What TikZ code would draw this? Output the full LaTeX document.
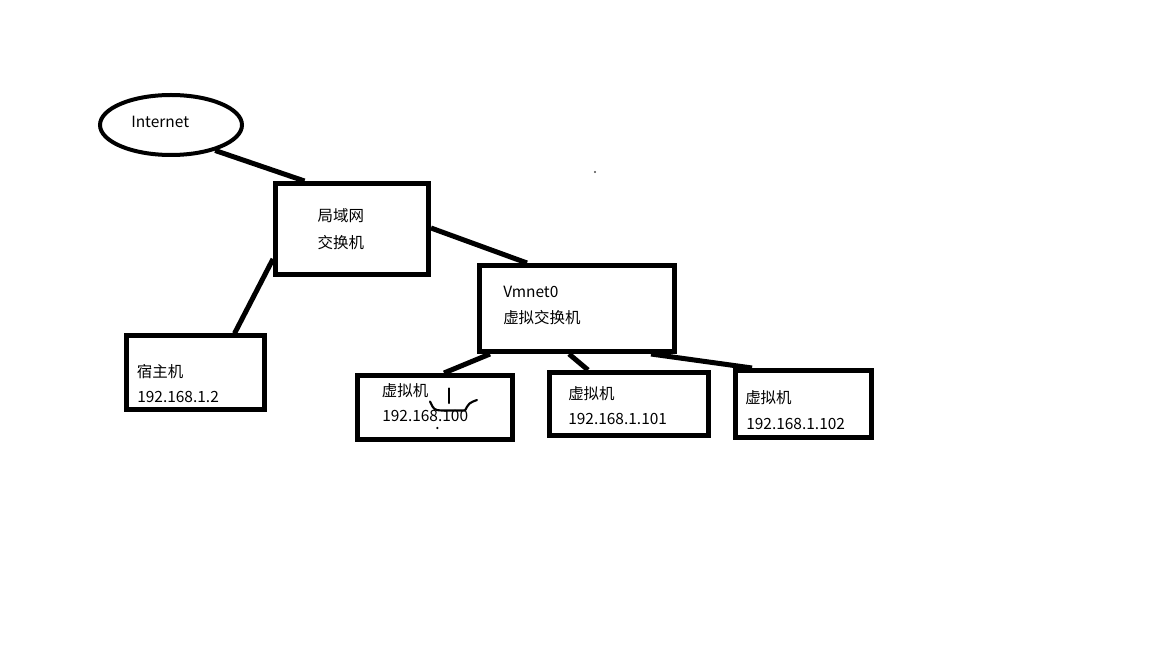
\documentclass[tikz,border=0pt]{standalone}
\usepackage{fontspec}
\setmainfont{Noto Sans CJK SC}
\usetikzlibrary{calc,shapes.geometric}
\tikzset{
  box/.style={draw=black, line width=3.75pt, rectangle, inner sep=0pt},
  cloud/.style={draw=black, line width=3pt, ellipse, inner sep=0pt},
  conn/.style={draw=black, line width=3.75pt},
  lbl/.style={anchor=west, inner sep=0pt, font=\fontsize{11.6pt}{13pt}\selectfont, text height=0.75em, text depth=0pt},
  scribble/.style={draw=black, line width=1.6pt, line cap=round, line join=round}
}
\begin{document}
\begin{tikzpicture}[x=0.75pt, y=-0.75pt]
\useasboundingbox[fill=white] (0,0) rectangle (1152,648);

% shapes
\node[cloud, minimum width=106.5pt, minimum height=45pt] (inet) at (171,125) {};
\node[box, minimum width=114.75pt, minimum height=68.25pt] (lan) at (352,229) {};
\node[box, minimum width=146.25pt, minimum height=64.5pt] (vm0) at (577,308.5) {};
\node[box, minimum width=103.5pt, minimum height=54.75pt] (host) at (195,372.5) {};
\node[box, minimum width=116.25pt, minimum height=48pt] (vma) at (435,407.5) {};
\node[box, minimum width=119.25pt, minimum height=47.25pt] (vmb) at (629,404) {};
\node[box, minimum width=102pt, minimum height=50.25pt] (vmc) at (803.5,404) {};

% labels
\node[lbl] (tinet) at (131,122.5) {Internet};
\node[lbl] (tlan1) at (317.3,216.5) {局域网};
\node[lbl] (tlan2) at (317.3,243.5) {交换机};
\node[lbl] (tvm01) at (503,292.5) {Vmnet0};
\node[lbl] (tvm02) at (503,318.5) {虚拟交换机};
\node[lbl] (thost1) at (136.7,372.5) {宿主机};
\node[lbl] (thost2) at (137,397.5) {192.168.1.2};
\node[lbl] (tvma1) at (381.7,391.5) {虚拟机};
\node[lbl] (tvma2) at (382,416.5) {192.168.100};
\node[lbl] (tvmb1) at (568,394) {虚拟机};
\node[lbl] (tvmb2) at (568,419.5) {192.168.1.101};
\node[lbl] (tvmc1) at (745,398.5) {虚拟机};
\node[lbl] (tvmc2) at (746,424.5) {192.168.1.102};

% connectors
\draw[conn] (inet.-30) -- ($(lan.north west)+(31.5,0)$);
\draw[conn] ($(lan.north east)+(0,47)$) -- ($(vm0.north west)+(50,0)$);
\draw[conn] ($(lan.south west)+(0,-18)$) -- ($(host.north west)+(111,0)$);
\draw[conn] ($(vm0.south west)+(13,0)$) -- ($(vma.north west)+(89,0)$);
\draw[conn] ($(vm0.south west)+(92,0)$) -- ($(vmb.north west)+(41,0)$);
\draw[conn] ($(vm0.south west)+(174,0)$) -- ($(vmc.north west)+(19,0)$);

% hand-drawn marks
\draw[scribble] (449.3,388.5) -- (449.3,403);
\draw[scribble] (430,401.5) .. controls (434,410) .. (442,410.5) -- (465,410.5) .. controls (469,403) .. (477,400);
\fill[black] (437.3,428) circle (0.9pt);
\fill[black!70] (595,172) circle (0.9pt);
\end{tikzpicture}
\end{document}
